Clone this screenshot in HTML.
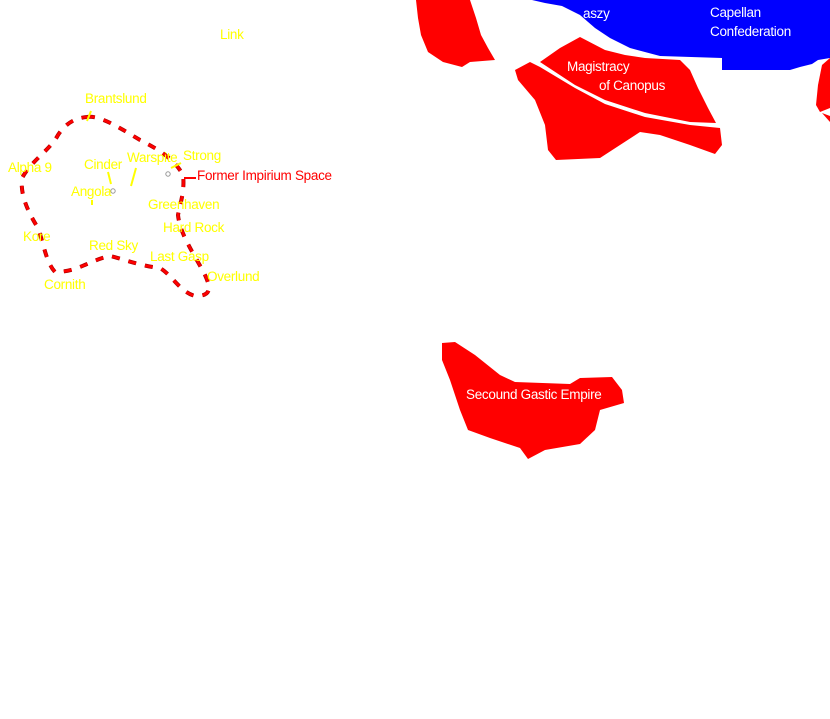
<!DOCTYPE html>
<html><head><meta charset="utf-8"><style>
html,body{margin:0;padding:0;background:#fff;width:830px;height:719px;overflow:hidden}
svg{display:block}
text{font-family:"Liberation Sans",sans-serif;font-size:13.5px;letter-spacing:-0.3px}
.y{fill:#ffff00}.w{fill:#fff}.r{fill:#ff0000}
</style></head><body>
<svg width="830" height="719" viewBox="0 0 830 719" xmlns="http://www.w3.org/2000/svg">
<polygon fill="#0000ff" points="532,0 830,0 830,58 818,60 812,64 800,67 790,70 722,70 722,58 660,56 630,48 610,38 595,28 580,15 562,6 545,3"/>
<polygon fill="#ff0000" points="416,0 470,0 476,18 481,35 488,48 495,60 470,62 462,67 443,62 428,52 421,35 418,18"/>
<polygon fill="#ff0000" points="540,62 560,48 580,37 605,50 625,55 645,58 680,60 690,70 698,88 708,108 716,123 690,122 645,113 605,100 575,85"/>
<polygon fill="#ff0000" points="515,70 530,62 540,67 575,88 605,104 645,117 690,125 720,128 722,145 715,154 690,145 660,135 640,132 620,145 600,158 556,160 548,150 545,125 535,100 518,80"/>
<polygon fill="#ff0000" points="830,58 822,65 818,85 816,105 820,112 830,108"/>
<polygon fill="#ff0000" points="830,116 822,113 830,122"/>
<polygon fill="#ff0000" points="442,343 455,342 475,355 500,375 515,382 570,384 580,378 612,377 622,390 624,403 600,410 595,430 580,444 545,450 528,459 520,448 490,438 468,430 460,410 450,380 442,360"/>
<path fill="none" stroke="#b00000" stroke-width="4" stroke-dasharray="8 9" d="M87,117 C100,115 120,128 140,140 C160,150 175,160 183,175 C185,190 180,205 178,215 C180,235 195,255 205,275 C212,290 210,296 195,296 C180,292 172,275 160,268 C140,266 120,258 110,256 C90,260 78,272 55,272 C46,262 44,245 38,228 C28,212 20,195 22,178 C32,160 50,150 58,135 C66,123 75,118 87,117"/>
<path fill="none" stroke="#ff0000" stroke-width="2.5" stroke-dasharray="8 9" d="M87,117 C100,115 120,128 140,140 C160,150 175,160 183,175 C185,190 180,205 178,215 C180,235 195,255 205,275 C212,290 210,296 195,296 C180,292 172,275 160,268 C140,266 120,258 110,256 C90,260 78,272 55,272 C46,262 44,245 38,228 C28,212 20,195 22,178 C32,160 50,150 58,135 C66,123 75,118 87,117"/>
<line x1="184" y1="178" x2="196" y2="178" stroke="#ff0000" stroke-width="2"/>
<g stroke="#ffff00" stroke-width="2">
<line x1="91" y1="111" x2="87" y2="121"/>
<line x1="108" y1="172" x2="111" y2="184"/>
<line x1="136" y1="168" x2="131" y2="186"/>
<line x1="171" y1="168" x2="181" y2="163"/>
<line x1="92" y1="200" x2="92" y2="205"/>
</g>
<circle cx="168" cy="174" r="2.2" fill="none" stroke="#999" stroke-width="1"/>
<circle cx="113" cy="191" r="2.2" fill="none" stroke="#999" stroke-width="1"/>
<text class="y" x="220" y="39">Link</text>
<text class="y" x="85" y="103">Brantslund</text>
<text class="y" x="8" y="172">Alpha 9</text>
<text class="y" x="84" y="169">Cinder</text>
<text class="y" x="127" y="162">Warspite</text>
<text class="y" x="183" y="160">Strong</text>
<text class="y" x="71" y="196">Angola</text>
<text class="y" x="148" y="209">Greenhaven</text>
<text class="y" x="163" y="232">Hard Rock</text>
<text class="y" x="23" y="241">Kore</text>
<text class="y" x="89" y="250">Red Sky</text>
<text class="y" x="150" y="261">Last Gasp</text>
<text class="y" x="207" y="281">Overlund</text>
<text class="y" x="44" y="289">Cornith</text>
<text class="r" x="197" y="180">Former Impirium Space</text>
<text class="w" x="567" y="71">Magistracy</text>
<text class="w" x="599" y="90">of Canopus</text>
<text class="w" x="710" y="17">Capellan</text>
<text class="w" x="710" y="36">Confederation</text>
<text class="w" x="583" y="18">aszy</text>
<text class="w" x="466" y="399">Secound Gastic Empire</text>
</svg>
</body></html>
